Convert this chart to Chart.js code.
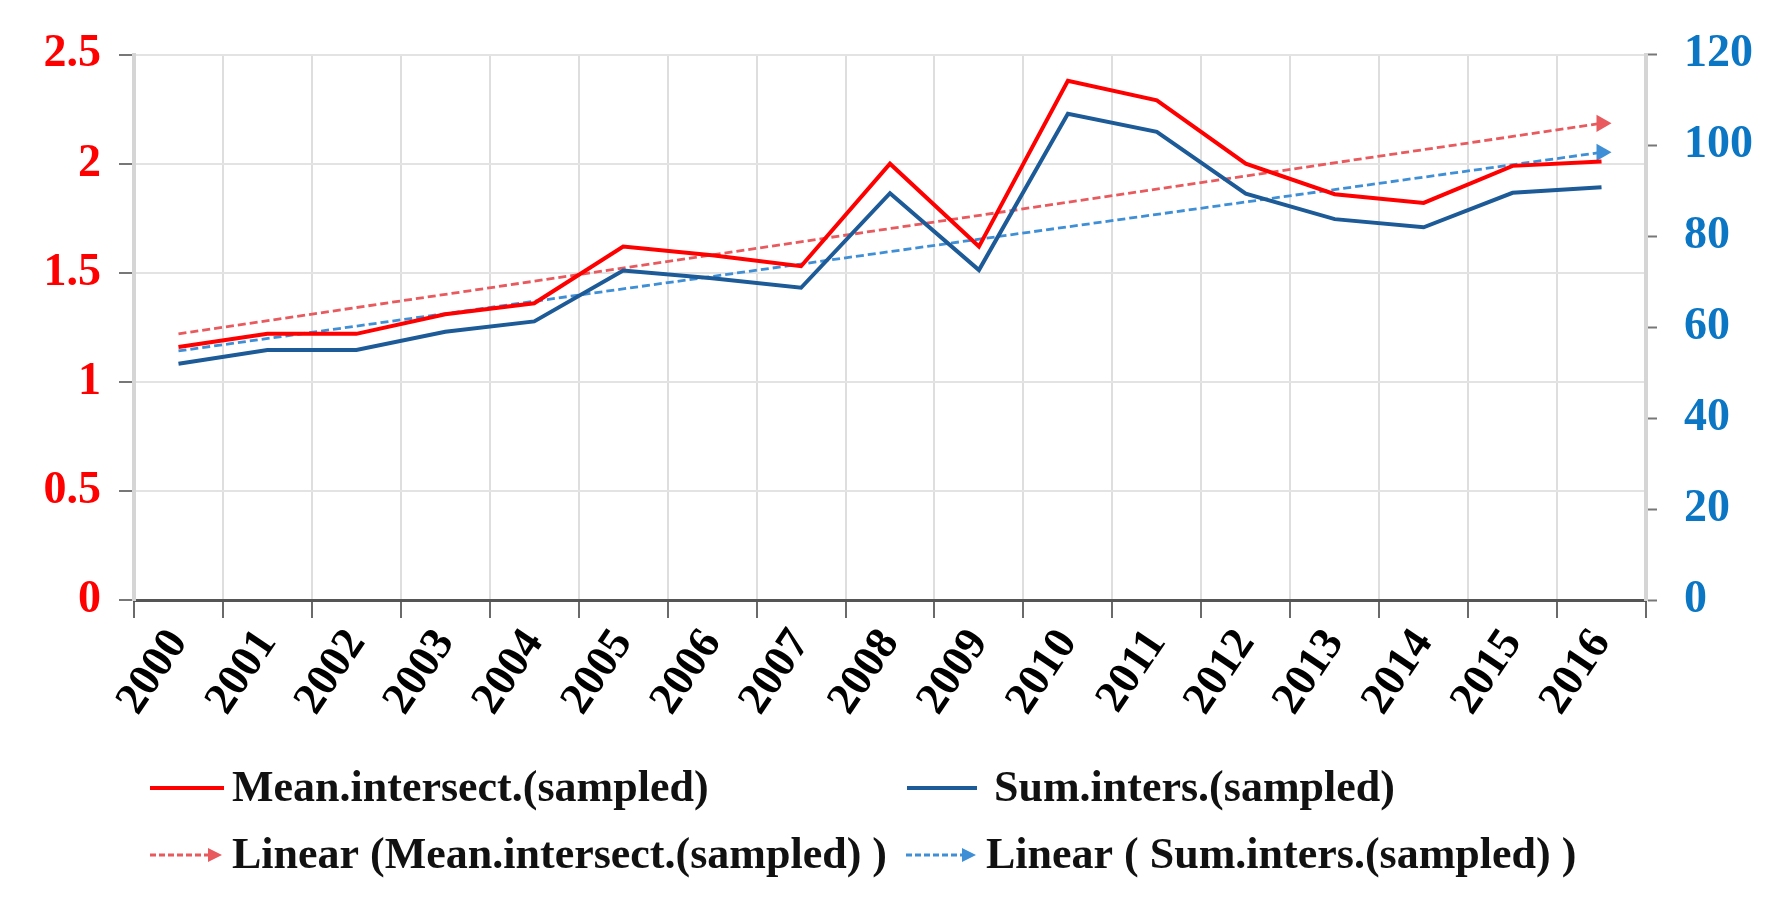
<!DOCTYPE html>
<html>
<head>
<meta charset="utf-8">
<script src="https://cdn.jsdelivr.net/npm/chart.js@4.4.1/dist/chart.umd.min.js"></script>
<style>
  body { margin: 0; background: #fff; }
  #wrap { width: 1777px; height: 909px; }
</style>
</head>
<body>
<div id="wrap"><canvas id="trendChart"></canvas></div>
<script>
// values
const years = ['2000', '2001', '2002', '2003', '2004', '2005', '2006', '2007', '2008',
  '2009', '2010', '2011', '2012', '2013', '2014', '2015', '2016'];
const meanIntersect = [1.16, 1.22, 1.22, 1.31, 1.36, 1.62, 1.58, 1.53, 2.0,
  1.62, 2.38, 2.29, 2.0, 1.86, 1.82, 1.99, 2.01];
const sumInters = [52, 55, 55, 59, 61.3, 72.5, 70.8, 68.7, 89.5,
  72.6, 107, 103, 89.4, 83.8, 82, 89.6, 90.8];
// linear trend lines: only the two end points are given
const meanTrend = [1.22, null, null, null, null, null, null, null, null,
  null, null, null, null, null, null, null, 2.185];
const sumTrend = [54.8, null, null, null, null, null, null, null, null,
  null, null, null, null, null, null, null, 98.5];
const leftTicks = ['0', '0.5', '1', '1.5', '2', '2.5'];
const rightTicks = ['0', '20', '40', '60', '80', '100', '120'];

const RED = '#ff0000';
const BLUE = '#1c5b97';
const RED_TREND = '#e85a5e';
const BLUE_TREND = '#3f8fd6';
const SERIF = '"Liberation Serif", "Times New Roman", serif';

const arrowRadius = years.map((y, i) => (i === years.length - 1 ? 10 : 0));

// legend drawn on the canvas in a 2 x 2 grid under the axis
const gridLegend = {
  id: 'gridLegend',
  afterDraw(chart) {
    const ctx = chart.ctx;
    const a = chart.chartArea;
    const items = [
      { text: 'Mean.intersect.(sampled)', color: RED, arrow: false, x: a.left + 16, y: a.bottom + 188, len: 74, tx: a.left + 98 },
      { text: 'Sum.inters.(sampled)', color: BLUE, arrow: false, x: a.left + 773, y: a.bottom + 188, len: 70, tx: a.left + 860 },
      { text: 'Linear (Mean.intersect.(sampled) )', color: RED_TREND, arrow: true, x: a.left + 16, y: a.bottom + 255, len: 72, tx: a.left + 98 },
      { text: 'Linear ( Sum.inters.(sampled) )', color: BLUE_TREND, arrow: true, x: a.left + 772, y: a.bottom + 255, len: 70, tx: a.left + 852 }
    ];
    ctx.save();
    items.forEach(it => {
      ctx.strokeStyle = it.color;
      ctx.lineWidth = it.arrow ? 3 : 4;
      ctx.setLineDash(it.arrow ? [6, 3] : []);
      ctx.beginPath();
      ctx.moveTo(it.x, it.y);
      ctx.lineTo(it.x + it.len - (it.arrow ? 12 : 0), it.y);
      ctx.stroke();
      ctx.setLineDash([]);
      if (it.arrow) {
        ctx.fillStyle = it.color;
        ctx.beginPath();
        ctx.moveTo(it.x + it.len, it.y);
        ctx.lineTo(it.x + it.len - 14, it.y - 7);
        ctx.lineTo(it.x + it.len - 14, it.y + 7);
        ctx.closePath();
        ctx.fill();
      }
      ctx.fillStyle = '#111';
      ctx.font = 'bold 44px ' + SERIF;
      ctx.textBaseline = 'middle';
      ctx.textAlign = 'left';
      ctx.fillText(it.text, it.tx, it.y + 2);
    });
    ctx.restore();
  }
};

new Chart(document.getElementById('trendChart'), {
  type: 'line',
  data: {
    labels: years,
    datasets: [
      { label: 'Mean.intersect.(sampled)', data: meanIntersect, yAxisID: 'y',
        borderColor: RED, borderWidth: 4, pointRadius: 0, tension: 0, order: 1 },
      { label: 'Sum.inters.(sampled)', data: sumInters, yAxisID: 'y1',
        borderColor: BLUE, borderWidth: 4, pointRadius: 0, tension: 0, order: 2 },
      { label: 'Linear (Mean.intersect.(sampled) )', data: meanTrend, yAxisID: 'y',
        borderColor: RED_TREND, backgroundColor: RED_TREND, borderWidth: 2.8, borderDash: [8, 4],
        spanGaps: true, pointStyle: 'triangle', rotation: 90, pointRadius: arrowRadius,
        pointBorderWidth: 0, order: 3 },
      { label: 'Linear ( Sum.inters.(sampled) )', data: sumTrend, yAxisID: 'y1',
        borderColor: BLUE_TREND, backgroundColor: BLUE_TREND, borderWidth: 2.8, borderDash: [8, 4],
        spanGaps: true, pointStyle: 'triangle', rotation: 90, pointRadius: arrowRadius,
        pointBorderWidth: 0, order: 4 }
    ]
  },
  options: {
    responsive: true,
    maintainAspectRatio: false,
    animation: false,
    devicePixelRatio: 1,
    layout: { padding: { top: 54, left: 0, right: 0, bottom: 0 } },
    plugins: { legend: { display: false }, tooltip: { enabled: false } },
    scales: {
      x: {
        offset: true,
        afterFit(scale) { scale.height = 309; },
        grid: { offset: true, color: '#dedede', lineWidth: 2, tickLength: 18, tickColor: '#6a6a6a', tickWidth: 2 },
        border: { color: '#555', width: 3 },
        ticks: {
          color: '#000', minRotation: 56, maxRotation: 56, padding: 2, autoSkip: false,
          font: { family: SERIF, size: 45, weight: 'bold' }
        }
      },
      y: {
        position: 'left',
        min: 0, max: 2.5,
        afterFit(scale) { scale.width = 134; },
        grid: { color: '#e3e3e3', lineWidth: 2, tickLength: 15, tickColor: '#777', tickWidth: 2 },
        border: { color: '#d5d5d5', width: 4 },
        ticks: {
          stepSize: 0.5, padding: 18, color: RED,
          font: { family: SERIF, size: 46, weight: 'bold' },
          callback: (v, i) => leftTicks[i]
        }
      },
      y1: {
        position: 'right',
        min: 0, max: 120,
        afterFit(scale) { scale.width = 131; },
        grid: { drawOnChartArea: false, tickLength: 11, tickColor: '#777', tickWidth: 2 },
        border: { color: '#d5d5d5', width: 4 },
        ticks: {
          stepSize: 20, padding: 27, color: '#0a76c4',
          font: { family: SERIF, size: 46, weight: 'bold' },
          callback: (v, i) => rightTicks[i]
        }
      }
    }
  },
  plugins: [gridLegend]
});
</script>
</body>
</html>
